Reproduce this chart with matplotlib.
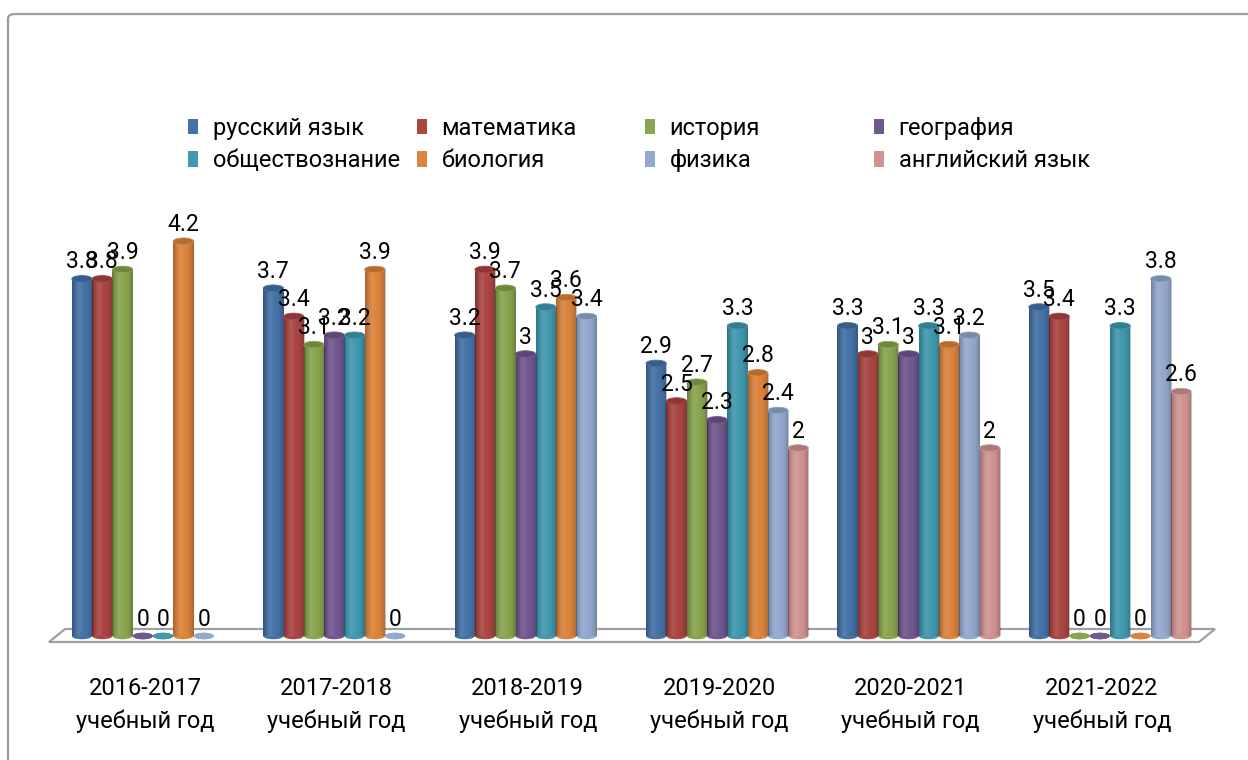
import numpy as np
import matplotlib
matplotlib.use("Agg")
import matplotlib.pyplot as plt
from matplotlib.patches import Ellipse, Polygon, FancyBboxPatch, Patch
import matplotlib.colors as mcolors

plt.rcParams['font.family'] = ['Roboto', 'DejaVu Sans']

categories = ['2016-2017\nучебный год', '2017-2018\nучебный год', '2018-2019\nучебный год',
              '2019-2020\nучебный год', '2020-2021\nучебный год', '2021-2022\nучебный год']
series_names = ['русский язык', 'математика', 'история', 'география',
                'обществознание', 'биология', 'физика', 'английский язык']
nan = np.nan
russian = [3.8, 3.7, 3.2, 2.9, 3.3, 3.5]
math_ = [3.8, 3.4, 3.9, 2.5, 3.0, 3.4]
history = [3.9, 3.1, 3.7, 2.7, 3.1, 0]
geography = [0, 3.2, 3.0, 2.3, 3.0, 0]
social = [0, 3.2, 3.5, 3.3, 3.3, 3.3]
biology = [4.2, 3.9, 3.6, 2.8, 3.1, 0]
physics = [0, 0, 3.4, 2.4, 3.2, 3.8]
english = [nan, nan, nan, 2.0, 2.0, 2.6]
series_values = [russian, math_, history, geography, social, biology, physics, english]
colors = ['#4572A7', '#AA4643', '#89A54E', '#71588F', '#4198AF', '#DB843D', '#93A9CF', '#D19392']

W, H = 1248, 760
fig = plt.figure(figsize=(W / 100, H / 100), dpi=100)

# outer frame
frame = FancyBboxPatch((8 / W, -0.1), 1.2, (H - 14) / H + 0.1,
                       boxstyle="round,pad=0,rounding_size=0.006",
                       transform=fig.transFigure, fill=False,
                       edgecolor='#9C9C9C', linewidth=1.6, zorder=0)
fig.patches.append(frame)

ax_l, ax_r, ax_t, ax_b = 40, 1230, 200, 660
ax = fig.add_axes([ax_l / W, (H - ax_b) / H, (ax_r - ax_l) / W, (ax_b - ax_t) / H])
ax.set_facecolor('none')
for s in ax.spines.values():
    s.set_visible(False)

px_per_group = 191.4
px_per_unit = 94.0
g0_px = 153
x_min = (ax_l - g0_px) / px_per_group
x_max = (ax_r - g0_px) / px_per_group
y_min = -(ax_b - 636) / px_per_unit
y_max = (636 - ax_t) / px_per_unit

n_series = len(series_names)
bw = 20.3 / px_per_group
ell_h = 6.5 / px_per_unit
x = np.arange(len(categories))

# floor
floor = Polygon([[(65 - g0_px) / px_per_group, 7 / px_per_unit],
                 [(1215 - g0_px) / px_per_group, 7 / px_per_unit],
                 [(1199 - g0_px) / px_per_group, -6 / px_per_unit],
                 [(49 - g0_px) / px_per_group, -6 / px_per_unit]],
                closed=True, facecolor='white', edgecolor='#A0A0A0', linewidth=1.6, zorder=1)
ax.add_patch(floor)

# shading profile for cylinders
t = np.linspace(-1, 1, 64)
shade = np.zeros((1, 64, 4))
shade[..., 3] = 0.25 * np.abs(t) ** 2.5
hl = np.zeros((1, 64, 4))
hl[..., :3] = 1.0
hl[..., 3] = 0.10 * np.exp(-((t + 0.35) / 0.3) ** 2)

for j, (name, vals, col) in enumerate(zip(series_names, series_values, colors)):
    xs = x + (j - (n_series - 1) / 2) * bw
    vals = np.array(vals, dtype=float)
    dark = tuple(np.array(mcolors.to_rgb(col)) * 0.82)
    bars = ax.bar(xs, np.nan_to_num(vals), width=bw, color=col, zorder=3 + j * 0.01,
                  linewidth=0)
    for xi, v, rect in zip(xs, vals, bars.patches):
        if np.isnan(v):
            rect.set_visible(False)
            continue
        ax.add_patch(Ellipse((xi, 0), bw, ell_h, facecolor=col, edgecolor='none', zorder=2.9))
        if v > 0:
            for img in (shade, hl):
                im = ax.imshow(img, extent=[xi - bw / 2, xi + bw / 2, 0, v], aspect='auto',
                               zorder=3.5, interpolation='bilinear')
                im.set_clip_path(rect)
            ax.add_patch(Ellipse((xi, v), bw, ell_h, facecolor=dark,
                                 edgecolor=col, linewidth=0.6, zorder=4))
        else:
            ax.add_patch(Ellipse((xi, 0), bw, ell_h, facecolor=col, edgecolor='none', zorder=4))
        ax.annotate(f'{v:g}', (xi, v), xytext=(0, 7.5), textcoords='offset points',
                    ha='center', va='baseline', fontsize=16.5, color='black', zorder=6)

ax.set_xlim(x_min, x_max)
ax.set_ylim(y_min, y_max)
ax.set_yticks([])
ax.set_xticks(x - 8 / px_per_group)
ax.set_xticklabels(categories, fontsize=17, linespacing=1.5)
ax.tick_params(axis='x', length=0, pad=12.5)

# legend: four one-column legends (Excel fills row-wise)
proxies = [Patch(facecolor=c, edgecolor='none') for c in colors]
col_x = [188, 417, 645, 874]
for c in range(4):
    hs = [proxies[c], proxies[c + 4]]
    ls = [series_names[c], series_names[c + 4]]
    fig.legend(hs, ls, loc='upper left', bbox_to_anchor=(col_x[c] / W, 1 - 117 / H),
               frameon=False, fontsize=17, handlelength=0.42, handleheight=0.62,
               handletextpad=0.62, borderpad=0, borderaxespad=0, labelspacing=0.4)

fig.savefig('out.png', dpi=100)
